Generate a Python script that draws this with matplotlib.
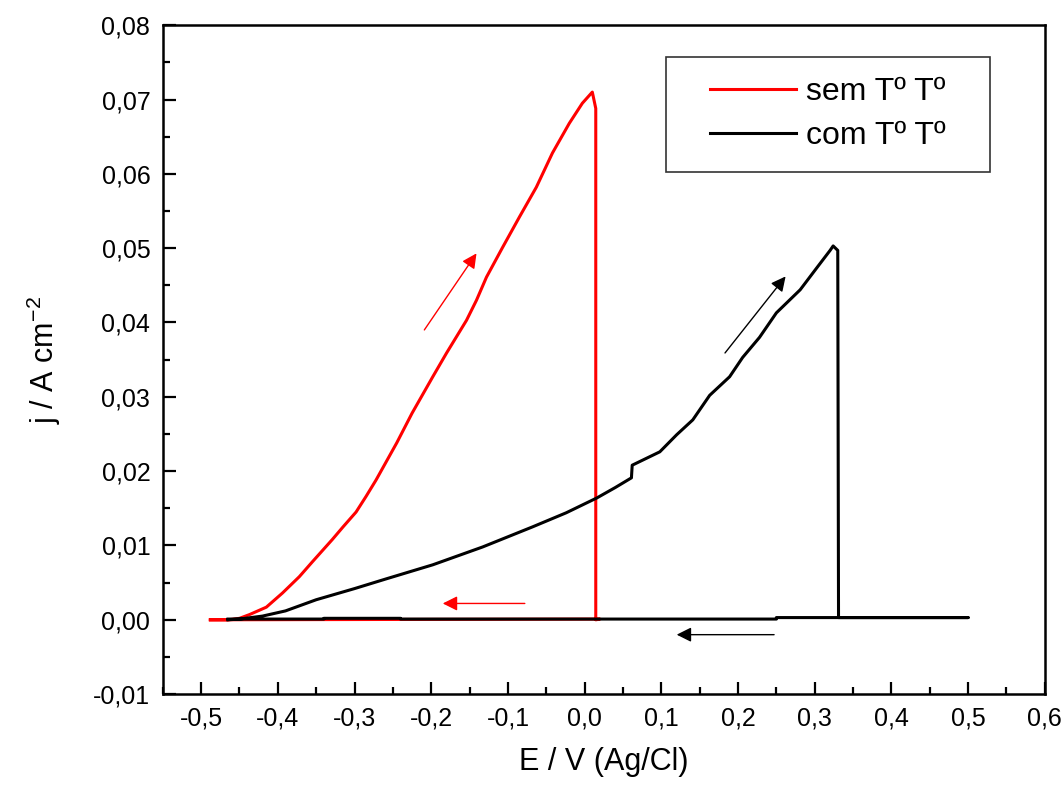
import matplotlib
matplotlib.use('Agg')
import matplotlib.pyplot as plt
from matplotlib.patches import Rectangle
from matplotlib.ticker import MultipleLocator, FuncFormatter

plt.rcParams['font.family'] = ['Liberation Sans', 'DejaVu Sans']

# sem T T (red) - forward sweep, drop, return along zero
sem_E = [-0.488, -0.465, -0.450, -0.437, -0.415, -0.394, -0.372, -0.355, -0.329, -0.315,
         -0.298, -0.285, -0.272, -0.245, -0.225, -0.198, -0.180, -0.154, -0.141, -0.128,
         -0.107, -0.085, -0.063, -0.042, -0.020, -0.003, 0.010, 0.0145, 0.0145, 0.020,
         -0.488]
sem_j = [0.0, 0.0, 0.0002, 0.0007, 0.0017, 0.0036, 0.0058, 0.0078, 0.0108, 0.0125,
         0.0145, 0.0166, 0.0188, 0.0238, 0.0278, 0.0327, 0.0359, 0.0403, 0.0430, 0.0461,
         0.0501, 0.0542, 0.0582, 0.0628, 0.0668, 0.0695, 0.0710, 0.0688, 0.0, 0.0001,
         0.0]

# com T T (black)
com_E = [-0.465, -0.450, -0.420, -0.390, -0.350, -0.300, -0.259, -0.198, -0.133, -0.068,
         -0.024, 0.016, 0.040, 0.061, 0.062, 0.098, 0.120, 0.141, 0.163, 0.189,
         0.206, 0.228, 0.250, 0.281, 0.303, 0.320, 0.324, 0.330, 0.331, 0.500,
         0.250, 0.250, -0.240, -0.240, -0.340, -0.340, -0.465]
com_j = [0.0, 0.0001, 0.0005, 0.0012, 0.0027, 0.0042, 0.0055, 0.0074, 0.0098, 0.0125,
         0.0144, 0.0164, 0.0178, 0.0191, 0.0208, 0.0226, 0.0249, 0.0269, 0.0302, 0.0327,
         0.0353, 0.0380, 0.0413, 0.0444, 0.0474, 0.0497, 0.0503, 0.0497, 0.0003, 0.0003,
         0.0003, 0.0001, 0.0001, 0.0002, 0.0002, 0.0001, 0.0001]

# scan direction arrows: (tail, head)
arrows = [
    ((-0.209, 0.0390), (-0.141, 0.0493), 'red'),
    ((-0.078, 0.0022), (-0.185, 0.0022), 'red'),
    ((0.183, 0.0359), (0.262, 0.0462), 'black'),
    ((0.247, -0.0020), (0.120, -0.0020), 'black'),
]

fig = plt.figure(figsize=(10.64, 7.87), dpi=100)
ax = fig.add_axes([0.153, 0.118, 0.829, 0.850])

ax.plot(sem_E, sem_j, color='#ff0000', lw=2.2, label='sem Tº Tº')
ax.plot(com_E, com_j, color='black', lw=2.2, label='com Tº Tº')

for tail, head, c in arrows:
    ax.annotate('', xy=head, xytext=tail,
                arrowprops=dict(arrowstyle='-|>', color=c, lw=1.0, mutation_scale=22,
                                shrinkA=0, shrinkB=0))

ax.set_xlim(-0.55, 0.6)
ax.set_ylim(-0.01, 0.08)

ax.xaxis.set_major_locator(MultipleLocator(0.1))
ax.xaxis.set_minor_locator(MultipleLocator(0.05))
ax.yaxis.set_major_locator(MultipleLocator(0.01))
ax.yaxis.set_minor_locator(MultipleLocator(0.005))

def comma_fmt(nd):
    def f(v, pos):
        s = f'{v:.{nd}f}'
        if s.startswith('-') and float(s) == 0:
            s = s[1:]
        return s.replace('.', ',')
    return FuncFormatter(f)

ax.xaxis.set_major_formatter(comma_fmt(1))
ax.yaxis.set_major_formatter(comma_fmt(2))

ax.tick_params(which='both', direction='in', top=False, right=False, width=1.6, labelsize=18)
ax.tick_params(which='major', length=9, pad=9)
ax.tick_params(which='minor', length=5)
for sp in ax.spines.values():
    sp.set_linewidth(1.8)

ax.set_xlabel('E / V (Ag/Cl)', fontsize=22, labelpad=12)
ax.set_ylabel('j / A cm$^{\\mathregular{-2}}$', fontsize=22, labelpad=22)

# legend box drawn separately so it gets the wide side margins of the original
ax.add_patch(Rectangle((0.571, 0.780), 0.367, 0.173, transform=ax.transAxes,
                       facecolor='white', edgecolor='#333333', lw=1.2, zorder=4))
leg = ax.legend(loc='center left', bbox_to_anchor=(0.620, 0.867), fontsize=23,
                frameon=False, handlelength=2.7, handletextpad=0.3, borderpad=0,
                labelspacing=0.45, borderaxespad=0)
leg.set_zorder(5)

fig.savefig('out.png', dpi=100)
